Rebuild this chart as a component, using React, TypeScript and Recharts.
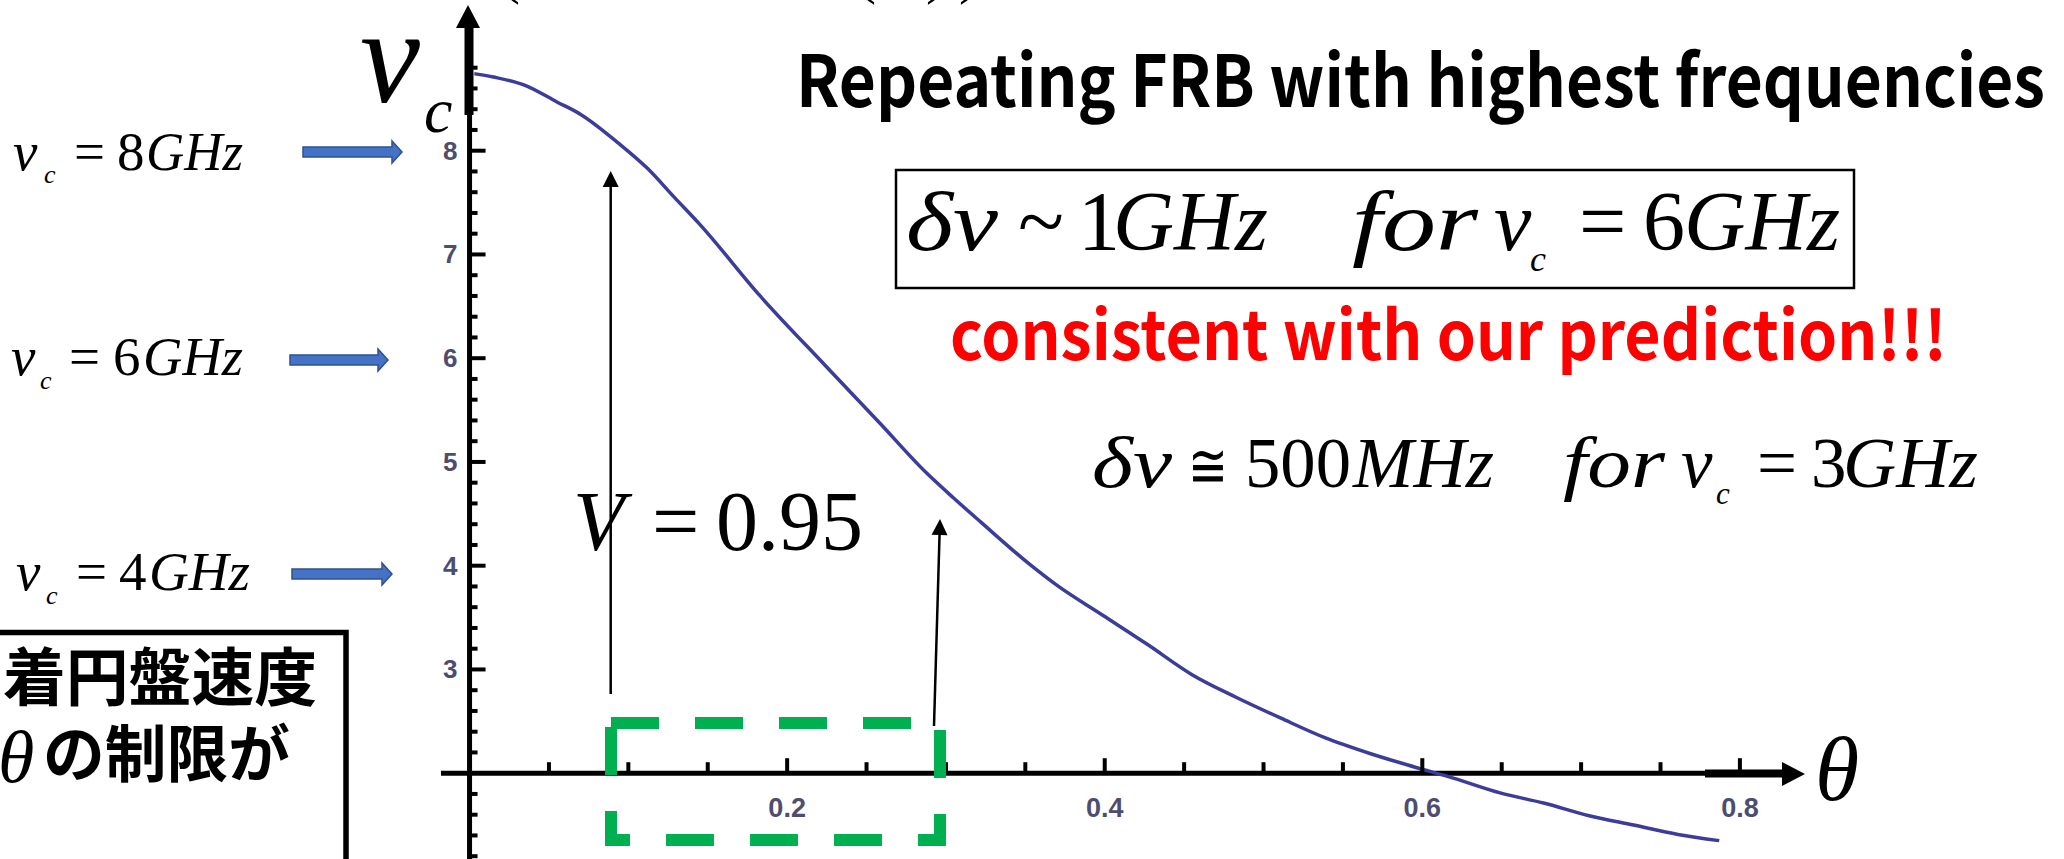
import React from "react";
import { LineChart, Line, XAxis, YAxis, ReferenceLine, ReferenceDot } from "recharts";

// curve: nu_c (GHz) against theta
const THETA = [0, 0.015, 0.035, 0.055, 0.07, 0.094, 0.112, 0.129, 0.145, 0.183, 0.224, 0.258, 0.288, 0.305, 0.322, 0.353, 0.37, 0.399, 0.427, 0.455, 0.483, 0.511, 0.539, 0.567, 0.595, 0.62, 0.649, 0.677, 0.705, 0.733, 0.761, 0.787];
const NU_C = [8.75, 8.71, 8.63, 8.47, 8.35, 8.07, 7.83, 7.55, 7.29, 6.6, 5.93, 5.38, 4.89, 4.65, 4.42, 4.01, 3.81, 3.52, 3.24, 2.95, 2.73, 2.53, 2.34, 2.19, 2.06, 1.95, 1.81, 1.71, 1.59, 1.5, 1.41, 1.35];

const X_MAJOR = [0.2, 0.4, 0.6, 0.8];
const X_LABELS = ["0.2", "0.4", "0.6", "0.8"];
const X_MINOR = [0.05, 0.1, 0.15, 0.25, 0.3, 0.35, 0.45, 0.5, 0.55, 0.65, 0.7, 0.75];
const Y_MAJOR = [3, 4, 5, 6, 7, 8];
const Y_LABELS = ["3", "4", "5", "6", "7", "8"];
const Y_MINOR = [1.2, 1.4, 1.6, 1.8, 2.2, 2.4, 2.6, 2.8, 3.2, 3.4, 3.6, 3.8, 4.2, 4.4, 4.6, 4.8, 5.2, 5.4, 5.6, 5.8, 6.2, 6.4, 6.6, 6.8, 7.2, 7.4, 7.6, 7.8, 8.2, 8.4, 8.6, 8.8];

const AXIS_Y = 2; // the theta axis crosses nu_c at 2
const X_DOMAIN = [-0.2957, 1.0041];
const Y_DOMAIN = [1.173, 9.4525];

const W = 2064;
const H = 859;
const SERIF = "'Liberation Serif', 'Times New Roman', serif";
const SANS = "'Noto Sans CJK JP', 'Noto Sans', sans-serif";
const CURVE = "#3c3c9a";
const TICK_LABEL = "#4d4d70";

const data = THETA.map((t, i) => ({ theta: t, nu: NU_C[i] }));

type Piece = { t: string; x: number; w?: number; it?: boolean; dy?: number; s?: number };

function MathLine({ y, size, pieces }: { y: number; size: number; pieces: Piece[] }) {
  return (
    <g fontFamily={SERIF} fill="#000">
      {pieces.map((p, i) => (
        <text
          key={i}
          x={p.x}
          y={y + (p.dy ?? 0)}
          fontSize={p.s ?? size}
          fontStyle={p.it ? "italic" : "normal"}
          textLength={p.w}
          lengthAdjust={p.w ? "spacingAndGlyphs" : undefined}
        >
          {p.t}
        </text>
      ))}
    </g>
  );
}

function BlockArrow({ x1, x2, y }: { x1: number; x2: number; y: number }) {
  const head = 10;
  const pts = [
    [x1, y - 5], [x2 - head, y - 5], [x2 - head, y - 11], [x2, y],
    [x2 - head, y + 11], [x2 - head, y + 5], [x1, y + 5],
  ].map((p) => p.join(",")).join(" ");
  return <polygon points={pts} fill="#4472c4" stroke="#2f528f" strokeWidth={1.5} />;
}

function ThinArrow({ x1, y1, x2, y2 }: { x1: number; y1: number; x2: number; y2: number }) {
  const dx = x2 - x1;
  const dy = y2 - y1;
  const len = Math.hypot(dx, dy);
  const ux = dx / len;
  const uy = dy / len;
  const bx = x2 - ux * 16;
  const by = y2 - uy * 16;
  const px = -uy * 8;
  const py = ux * 8;
  return (
    <g>
      <line x1={x1} y1={y1} x2={bx} y2={by} stroke="#000" strokeWidth={2.5} />
      <polygon points={`${x2},${y2} ${bx + px},${by + py} ${bx - px},${by - py}`} fill="#000" />
    </g>
  );
}

const xTick = (len: number, label?: string) => (p: any) => (
  <g>
    <line x1={p.cx} y1={p.cy} x2={p.cx} y2={p.cy - len} stroke="#000" strokeWidth={4} />
    {label && (
      <text x={p.cx} y={p.cy + 44} textAnchor="middle" fontFamily="'Liberation Sans', Arial, sans-serif" fontWeight="bold" fontSize={27} fill={TICK_LABEL}>
        {label}
      </text>
    )}
  </g>
);

const yTick = (len: number, label?: string) => (p: any) => (
  <g>
    <line x1={p.cx} y1={p.cy} x2={p.cx + len} y2={p.cy} stroke="#000" strokeWidth={4} />
    {label && (
      <text x={p.cx - 12} y={p.cy} textAnchor="end" dominantBaseline="central" fontFamily="'Liberation Sans', Arial, sans-serif" fontWeight="bold" fontSize={26} fill={TICK_LABEL}>
        {label}
      </text>
    )}
  </g>
);

export default function App() {
  return (
    <div style={{ position: "absolute", left: 0, top: 0, width: W, height: H, background: "#fff", overflow: "hidden" }}>
      <LineChart width={W} height={H} data={data} margin={{ top: 0, right: 0, bottom: 0, left: 0 }}>
        <XAxis type="number" dataKey="theta" domain={X_DOMAIN} hide allowDataOverflow />
        <YAxis type="number" domain={Y_DOMAIN} hide allowDataOverflow />
        <ReferenceLine segment={[{ x: -0.018, y: AXIS_Y }, { x: 0.8265, y: AXIS_Y }]} stroke="#000" strokeWidth={5} />
        <ReferenceLine segment={[{ x: 0, y: Y_DOMAIN[0] }, { x: 0, y: 9.0 }]} stroke="#000" strokeWidth={5} />
        {X_MINOR.map((t) => (
          <ReferenceDot key={`xm-${t}`} x={t} y={AXIS_Y} r={0} shape={xTick(11)} />
        ))}
        {X_MAJOR.map((t, i) => (
          <ReferenceDot key={`xM-${t}`} x={t} y={AXIS_Y} r={0} shape={xTick(15, X_LABELS[i])} />
        ))}
        {Y_MINOR.map((v) => (
          <ReferenceDot key={`ym-${v}`} x={0} y={v} r={0} shape={yTick(8)} />
        ))}
        {Y_MAJOR.map((v, i) => (
          <ReferenceDot key={`yM-${v}`} x={0} y={v} r={0} shape={yTick(16, Y_LABELS[i])} />
        ))}
        <Line type="monotone" dataKey="nu" stroke={CURVE} strokeWidth={3.5} dot={false} isAnimationActive={false} />
      </LineChart>

      <svg width={W} height={H} style={{ position: "absolute", left: 0, top: 0, pointerEvents: "none" }}>
        {/* cut-off formula above the slide */}
        <g fontFamily={SERIF} fontSize={60} fill="#000">
          <text x={500} y={-8}>(</text>
          <text x={856} y={-8}>(</text>
          <text x={926} y={-8}>)</text>
          <text x={959} y={-8}>)</text>
        </g>

        {/* axis arrows */}
        <line x1={469} y1={115} x2={469} y2={27} stroke="#000" strokeWidth={9} />
        <polygon points="468,5 456,28 480,28" fill="#000" />
        <line x1={1705} y1={773.5} x2={1783} y2={773.5} stroke="#000" strokeWidth={8} />
        <polygon points="1782,762 1805,774 1782,786" fill="#000" />

        {/* axis titles */}
        <text x={360} y={102} fontFamily={SERIF} fontStyle="italic" fontSize={135}>ν</text>
        <text x={424} y={132} fontFamily={SERIF} fontStyle="italic" fontSize={64}>c</text>
        <text x={1815} y={800} fontFamily={SERIF} fontStyle="italic" fontSize={90}>θ</text>

        {/* title */}
        <text x={796} y={107} fontFamily={SANS} fontWeight="bold" fontSize={72} textLength={1249} lengthAdjust="spacingAndGlyphs" fill="#000">
          Repeating FRB with highest frequencies
        </text>

        {/* boxed estimate */}
        <rect x={896} y={170} width={958} height={118} fill="none" stroke="#000" strokeWidth={2.5} />
        <MathLine
          y={250}
          size={84}
          pieces={[
            { t: "δν", x: 906, w: 92, it: true },
            { t: "~", x: 1018, w: 46 },
            { t: "1", x: 1078 },
            { t: "GHz", x: 1113, w: 155, it: true },
            { t: "for", x: 1352, w: 126, it: true },
            { t: "ν", x: 1494, it: true },
            { t: "c", x: 1530, it: true, s: 36, dy: 21 },
            { t: "=", x: 1579 },
            { t: "6", x: 1643 },
            { t: "GHz", x: 1684, w: 156, it: true },
          ]}
        />

        <text x={950} y={360} fontFamily={SANS} fontWeight="bold" fontSize={68} textLength={997} lengthAdjust="spacingAndGlyphs" fill="#ff0000">
          consistent with our prediction!!!
        </text>

        <MathLine
          y={487}
          size={71}
          pieces={[
            { t: "δν", x: 1092, w: 80, it: true },
            { t: "≅", x: 1188, w: 40, s: 62 },
            { t: "500", x: 1245, w: 106 },
            { t: "MHz", x: 1353, w: 141, it: true },
            { t: "for", x: 1563, w: 102, it: true },
            { t: "ν", x: 1681, it: true },
            { t: "c", x: 1716, it: true, s: 31, dy: 17 },
            { t: "=", x: 1757 },
            { t: "3", x: 1811 },
            { t: "GHz", x: 1843, w: 135, it: true },
          ]}
        />

        <MathLine
          y={550}
          size={84}
          pieces={[
            { t: "V", x: 573, it: true },
            { t: "=", x: 652 },
            { t: "0.95", x: 716, w: 147 },
          ]}
        />

        {/* left-hand frequency markers */}
        <MathLine
          y={170}
          size={55}
          pieces={[
            { t: "ν", x: 13, it: true },
            { t: "c", x: 44, it: true, s: 26, dy: 13 },
            { t: "=", x: 74 },
            { t: "8", x: 117 },
            { t: "GHz", x: 146, w: 97, it: true },
          ]}
        />
        <MathLine
          y={375}
          size={55}
          pieces={[
            { t: "ν", x: 11, it: true },
            { t: "c", x: 40, it: true, s: 26, dy: 14 },
            { t: "=", x: 69 },
            { t: "6", x: 113 },
            { t: "GHz", x: 143, w: 100, it: true },
          ]}
        />
        <MathLine
          y={590}
          size={55}
          pieces={[
            { t: "ν", x: 16, it: true },
            { t: "c", x: 46, it: true, s: 26, dy: 14 },
            { t: "=", x: 76 },
            { t: "4", x: 119 },
            { t: "GHz", x: 149, w: 101, it: true },
          ]}
        />
        <BlockArrow x1={303} x2={402} y={152} />
        <BlockArrow x1={290} x2={388} y={360} />
        <BlockArrow x1={292} x2={392} y={574} />

        {/* Japanese note box */}
        <rect x={-10} y={632.5} width={356} height={260} fill="#fff" stroke="#000" strokeWidth={5.5} />
        <text x={3} y={700} fontFamily={SANS} fontWeight="bold" fontSize={63} textLength={314} lengthAdjust="spacingAndGlyphs">
          着円盤速度
        </text>
        <text x={-2} y={782} fontFamily={SERIF} fontStyle="italic" fontSize={74}>θ</text>
        <text x={43} y={777} fontFamily={SANS} fontWeight="bold" fontSize={62} textLength={247} lengthAdjust="spacingAndGlyphs">
          の制限が
        </text>

        {/* V = 0.95 pointers */}
        <ThinArrow x1={610.7} y1={694} x2={610.7} y2={171} />
        <ThinArrow x1={934} y1={726} x2={940} y2={519} />

        {/* green dashed highlight */}
        <rect x={611} y={723} width={329} height={117} fill="none" stroke="#00b050" strokeWidth={12} strokeDasharray="48 36" />
      </svg>
    </div>
  );
}
